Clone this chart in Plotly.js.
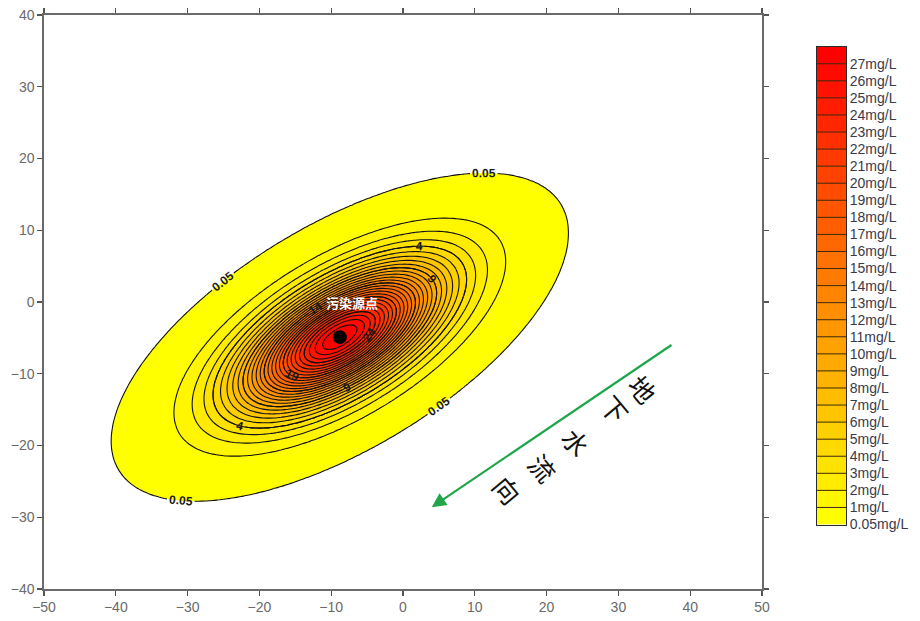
<!DOCTYPE html>
<html><head><meta charset="utf-8">
<script src="https://cdn.plot.ly/plotly-3.0.1.min.js"></script>
<style>html,body{margin:0;padding:0;background:#fff}#chart{width:920px;height:621px}</style>
</head><body><div id="chart"></div>
<script>
// ---- data ----
const levels = [0.05, 1, 2, 3, 4, 5, 6, 7, 8, 9, 10, 11, 12, 13, 14, 15, 16, 17, 18, 19, 20, 21, 22, 23, 24, 25, 26, 27];
const levelLabels = ['0.05mg/L','1mg/L','2mg/L','3mg/L','4mg/L','5mg/L','6mg/L','7mg/L','8mg/L','9mg/L','10mg/L','11mg/L','12mg/L','13mg/L','14mg/L','15mg/L','16mg/L','17mg/L','18mg/L','19mg/L','20mg/L','21mg/L','22mg/L','23mg/L','24mg/L','25mg/L','26mg/L','27mg/L'];
const bandColors = ['#FFFF00','#FFF600','#FFEC00','#FFE300','#FFD900','#FFD000','#FFC600','#FFBD00','#FFB300','#FFAA00','#FFA100','#FF9700','#FF8E00','#FF8400','#FF7B00','#FF7100','#FF6800','#FF5E00','#FF5500','#FF4C00','#FF4200','#FF3900','#FF2F00','#FF2600','#FF1C00','#FF1300','#FF0900','#FF0000'];
const labeledLevels = [4, 9, 14, 19, 24];
const xTicks = [-50, -40, -30, -20, -10, 0, 10, 20, 30, 40, 50];
const yTicks = [-40, -30, -20, -10, 0, 10, 20, 30, 40];
// pollution source and plume shape
const sourceX = [-8.8];
const sourceY = [-4.9];
const sourceName = ['污染源点'];
const plumePeak = [28];
const plumeSigmaMajor = [10.1];
const plumeSigmaMinor = [4.4];
const plumeAngleDeg = [31];
const flowChars = ['地', '下', '水', '流', '向'];
const flowStart = [37.6, -5.85];
const flowEnd = [4.0, -28.6];

// ---- concentration field of the plume ----
const gx = [], gy = [];
for (let x = -50; x <= 50.0001; x += 0.5) gx.push(+x.toFixed(2));
for (let y = -40; y <= 40.0001; y += 0.5) gy.push(+y.toFixed(2));
const th = plumeAngleDeg[0] * Math.PI / 180;
const zRaw = gy.map(y => gx.map(x => {
  const dx = x - sourceX[0], dy = y - sourceY[0];
  const u = dx * Math.cos(th) + dy * Math.sin(th);
  const v = -dx * Math.sin(th) + dy * Math.cos(th);
  return plumePeak[0] * Math.exp(-(u * u) / (2 * plumeSigmaMajor[0] ** 2) - (v * v) / (2 * plumeSigmaMinor[0] ** 2));
}));
// map the irregular level list onto level indices so the filled bands follow it
const zIdx = zRaw.map(r => r.map(c => c < levels[1] ? (c - levels[0]) / (levels[1] - levels[0]) : c));

const nL = levels.length;
const fillScale = [[0, '#ffffff']].concat(bandColors.map((c, k) => [(k + 1) / nL, c]));
const barScale = bandColors.map((c, k) => [k / (nL - 1), c]);

const labelFont = {family: 'Liberation Sans, Arial, sans-serif', size: 12, color: '#1a1a1a', weight: 'bold'};
const lineStyle = {color: '#111', width: 1.1};
// empty extra levels above the peak only tune how many labels Plotly spreads on each ring
const outerStep = 100, outerCount = 50;
const innerStep = labeledLevels[1] - labeledLevels[0], innerCount = 40;

const traces = [
  {type: 'contour', x: gx, y: gy, z: zIdx, autocontour: false,
   contours: {start: 0, end: nL - 1, size: 1, coloring: 'fill', showlines: false},
   colorscale: fillScale, showscale: false, hoverinfo: 'skip', line: {width: 0}},
  {type: 'contour', x: gx, y: gy, z: zIdx, autocontour: false,
   contours: {start: 1, end: nL - 1, size: 1, coloring: 'none', showlines: true},
   line: lineStyle, showscale: false, hoverinfo: 'skip'},
  {type: 'contour', x: gx, y: gy, z: zRaw, autocontour: false,
   contours: {start: levels[0], end: levels[0] + outerStep * (outerCount - 1), size: outerStep, coloring: 'none',
              showlabels: true, labelfont: labelFont, labelformat: '.2f'},
   line: lineStyle, showscale: false, hoverinfo: 'skip'},
  {type: 'contour', x: gx, y: gy, z: zRaw, autocontour: false,
   contours: {start: labeledLevels[0], end: labeledLevels[0] + innerStep * (innerCount - 1), size: innerStep, coloring: 'none',
              showlabels: true, labelfont: labelFont, labelformat: 'd'},
   line: lineStyle, showscale: false, hoverinfo: 'skip'},
  {type: 'scatter', mode: 'markers', x: sourceX, y: sourceY,
   marker: {size: 14, color: '#000'}, hoverinfo: 'skip', showlegend: false},
  // legend bar built from the level list
  {type: 'heatmap', xaxis: 'x2', yaxis: 'y2', x: [-0.5, 0.5],
   y: levels.map((v, k) => k).concat([nL]),
   z: levels.map((v, k) => [k]), zmin: 0, zmax: nL - 1,
   colorscale: barScale, showscale: false, hoverinfo: 'skip'},
  {type: 'scatter', mode: 'lines', xaxis: 'x2', yaxis: 'y2',
   x: levels.slice(1).flatMap(() => [-0.5, 0.5, null]),
   y: levels.slice(1).flatMap((v, k) => [k + 1, k + 1, null]),
   line: {color: '#3a2a10', width: 1}, hoverinfo: 'skip', showlegend: false}
];

const axisCommon = {
  ticks: 'outside', ticklen: 5, tickwidth: 1.3, tickcolor: '#555',
  showline: true, linecolor: '#6a6a6a', linewidth: 1.6, mirror: 'ticks',
  showgrid: false, zeroline: false, fixedrange: true,
  tickfont: {family: 'Liberation Sans, Arial, sans-serif', size: 14, color: '#6a6a6a'}
};

const flowPos = [[33.4, -12.1], [29.5, -14.9], [24.2, -19.4], [19.5, -23.1], [14.6, -26.1]];
const annotations = [
  {x: sourceX[0] + 1.7, y: sourceY[0] + 4.8, xref: 'x', yref: 'y', text: '<b>' + sourceName[0] + '</b>', showarrow: false,
   font: {family: 'Noto Sans CJK SC', size: 13, color: '#ffffff'}},
  {x: flowEnd[0], y: flowEnd[1], ax: flowStart[0], ay: flowStart[1], xref: 'x', yref: 'y', axref: 'x', ayref: 'y',
   text: '', showarrow: true, arrowhead: 2, arrowsize: 1.3, arrowwidth: 2.2, arrowcolor: '#1fa64a', standoff: 0}
].concat(flowChars.map((ch, i) => ({
  x: flowPos[i][0], y: flowPos[i][1], xref: 'x', yref: 'y', text: ch, showarrow: false, textangle: 50,
  font: {family: 'Noto Sans CJK SC', size: 26, color: '#111'}
})));

const layout = {
  width: 920, height: 621,
  margin: {l: 44, r: 74, t: 15, b: 32},
  paper_bgcolor: '#fff', plot_bgcolor: '#fff',
  showlegend: false,
  xaxis: Object.assign({}, axisCommon, {domain: [0, 718 / 802], range: [-50, 50], tickvals: xTicks, anchor: 'y'}),
  yaxis: Object.assign({}, axisCommon, {domain: [0, 1], range: [-40, 40], tickvals: yTicks, anchor: 'x'}),
  xaxis2: {domain: [773 / 802, 1], range: [-0.5, 0.5], anchor: 'y2', showticklabels: false, ticks: '',
           showline: true, mirror: true, linecolor: '#2a2a2a', linewidth: 1, showgrid: false, zeroline: false, fixedrange: true},
  yaxis2: {domain: [64.5 / 574, 542.3 / 574], range: [0, nL], anchor: 'x2', side: 'right',
           tickvals: levels.map((v, k) => k), ticktext: levelLabels, ticks: '',
           showline: true, mirror: true, linecolor: '#2a2a2a', linewidth: 1, showgrid: false, zeroline: false, fixedrange: true,
           tickfont: {family: 'Liberation Sans, Arial, sans-serif', size: 14, color: '#3a3a4a'}},
  annotations: annotations
};

Plotly.newPlot('chart', traces, layout, {displayModeBar: false, staticPlot: true});
</script>
</body></html>
